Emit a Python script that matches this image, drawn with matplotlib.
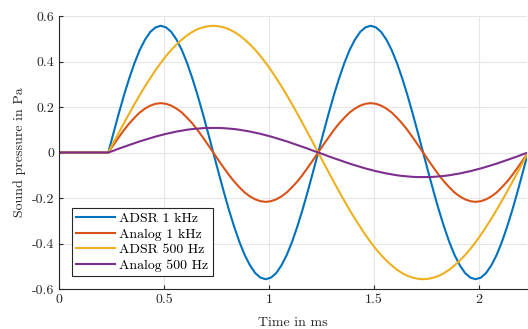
import matplotlib.pyplot as plt

# time axis in ms (signal starts after a short silence)
time_ms = [0,
           0.235, 0.260, 0.285, 0.310, 0.335, 0.360, 0.385, 0.410, 0.435, 0.460,
           0.485, 0.510, 0.535, 0.560, 0.585, 0.610, 0.635, 0.660, 0.685, 0.710,
           0.735, 0.760, 0.785, 0.810, 0.835, 0.860, 0.885, 0.910, 0.935, 0.960,
           0.985, 1.010, 1.035, 1.060, 1.085, 1.110, 1.135, 1.160, 1.185, 1.210,
           1.235, 1.260, 1.285, 1.310, 1.335, 1.360, 1.385, 1.410, 1.435, 1.460,
           1.485, 1.510, 1.535, 1.560, 1.585, 1.610, 1.635, 1.660, 1.685, 1.710,
           1.735, 1.760, 1.785, 1.810, 1.835, 1.860, 1.885, 1.910, 1.935, 1.960,
           1.985, 2.010, 2.035, 2.060, 2.085, 2.110, 2.135, 2.160, 2.185, 2.210,
           2.235]

adsr_1k = [0,
           0, .087, .172, .253, .327, .394, .451, .496, .530, .550,
           .557, .550, .530, .496, .451, .394, .327, .253, .172, .087,
           0, -.087, -.172, -.253, -.327, -.394, -.451, -.496, -.530, -.550,
           -.557, -.550, -.530, -.496, -.451, -.394, -.327, -.253, -.172, -.087,
           0, .087, .172, .253, .327, .394, .451, .496, .530, .550,
           .557, .550, .530, .496, .451, .394, .327, .253, .172, .087,
           0, -.087, -.172, -.253, -.327, -.394, -.451, -.496, -.530, -.550,
           -.557, -.550, -.530, -.496, -.451, -.394, -.327, -.253, -.172, -.087,
           0]

analog_1k = [0,
             0, .034, .067, .099, .128, .153, .176, .193, .206, .214,
             .217, .214, .206, .193, .176, .153, .128, .099, .067, .034,
             0, -.034, -.067, -.099, -.128, -.153, -.176, -.193, -.206, -.214,
             -.217, -.214, -.206, -.193, -.176, -.153, -.128, -.099, -.067, -.034,
             0, .034, .067, .099, .128, .153, .176, .193, .206, .214,
             .217, .214, .206, .193, .176, .153, .128, .099, .067, .034,
             0, -.034, -.067, -.099, -.128, -.153, -.176, -.193, -.206, -.214,
             -.217, -.214, -.206, -.193, -.176, -.153, -.128, -.099, -.067, -.034,
             0]

adsr_500 = [0,
            0, .044, .087, .130, .172, .213, .253, .291, .327, .362,
            .394, .424, .451, .475, .496, .515, .530, .542, .550, .555,
            .557, .555, .550, .542, .530, .515, .496, .475, .451, .424,
            .394, .362, .327, .291, .253, .213, .172, .130, .087, .044,
            0, -.044, -.087, -.130, -.172, -.213, -.253, -.291, -.327, -.362,
            -.394, -.424, -.451, -.475, -.496, -.515, -.530, -.542, -.550, -.555,
            -.557, -.555, -.550, -.542, -.530, -.515, -.496, -.475, -.451, -.424,
            -.394, -.362, -.327, -.291, -.253, -.213, -.172, -.130, -.087, -.044,
            0]

analog_500 = [0,
              0, .008, .017, .025, .033, .041, .049, .056, .063, .070,
              .076, .082, .087, .092, .096, .100, .103, .105, .107, .108,
              .108, .108, .107, .105, .103, .100, .096, .092, .087, .082,
              .076, .070, .063, .056, .049, .041, .033, .025, .017, .008,
              0, -.008, -.017, -.025, -.033, -.041, -.049, -.056, -.063, -.070,
              -.076, -.082, -.087, -.092, -.096, -.100, -.103, -.105, -.107, -.108,
              -.108, -.108, -.107, -.105, -.103, -.100, -.096, -.092, -.087, -.082,
              -.076, -.070, -.063, -.056, -.049, -.041, -.033, -.025, -.017, -.008,
              0]

series = [
    ("ADSR 1 kHz", adsr_1k, "#0072BD"),
    ("Analog 1 kHz", analog_1k, "#D95319"),
    ("ADSR 500 Hz", adsr_500, "#EDB120"),
    ("Analog 500 Hz", analog_500, "#7E2F8E"),
]

plt.rcParams["font.family"] = "serif"
plt.rcParams["font.serif"] = ["cmr10"]
plt.rcParams["mathtext.fontset"] = "cm"
plt.rcParams["axes.unicode_minus"] = False
plt.rcParams["axes.formatter.use_mathtext"] = False

fig = plt.figure(figsize=(5.28, 3.29), dpi=100)
ax = fig.add_axes([59 / 528, 40 / 329, 468 / 528, 273 / 329])

for name, vals, col in series:
    ax.plot(time_ms, vals, color=col, linewidth=1.5, label=name)

ax.set_xlim(0, 2.23)
ax.set_ylim(-0.6, 0.6)
ax.set_xticks([0, 0.5, 1, 1.5, 2])
ax.set_xticklabels(["0", "0.5", "1", "1.5", "2"])
ax.set_yticks([-0.6, -0.4, -0.2, 0, 0.2, 0.4, 0.6])
ax.set_yticklabels(["-0.6", "-0.4", "-0.2", "0", "0.2", "0.4", "0.6"])

ax.grid(True, color="#e6e6e6", linewidth=0.8)
ax.set_axisbelow(True)
for s in ["top", "right"]:
    ax.spines[s].set_visible(False)
for s in ["left", "bottom"]:
    ax.spines[s].set_color("#262626")
    ax.spines[s].set_linewidth(0.8)
ax.tick_params(direction="in", length=3, width=0.8, color="#262626",
               labelsize=10, labelcolor="#262626")

ax.set_xlabel("Time in ms", fontsize=10, color="#262626", labelpad=8)
ax.set_ylabel("Sound pressure in Pa", fontsize=10, color="#262626")

leg = ax.legend(loc="lower left", bbox_to_anchor=(0.028, 0.048), fontsize=10,
                fancybox=False, framealpha=1, edgecolor="#262626",
                handlelength=2.8, handletextpad=0.3, borderpad=0.3,
                labelspacing=0.2, borderaxespad=0)
leg.get_frame().set_linewidth(0.8)

fig.savefig("out.png", dpi=100)
